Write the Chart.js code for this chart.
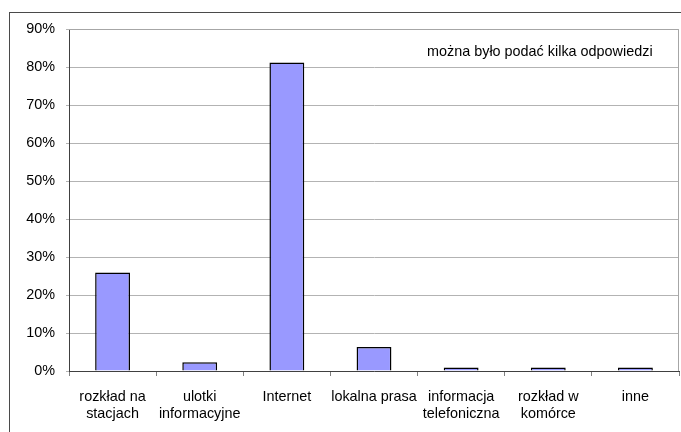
<!DOCTYPE html>
<html>
<head>
<meta charset="utf-8">
<script src="https://cdn.jsdelivr.net/npm/chart.js@4/dist/chart.umd.min.js"></script>
<style>
html,body{margin:0;padding:0;background:#fff;}
#wrap{width:681px;height:432px;position:relative;}
</style>
</head>
<body>
<div id="wrap"><canvas id="c" width="681" height="432"></canvas></div>
<script>
const categories = [
  ["rozkład na", "stacjach"],
  ["ulotki", "informacyjne"],
  "Internet",
  "lokalna prasa",
  ["informacja", "telefoniczna"],
  ["rozkład w", "komórce"],
  "inne"
];
const values = [25.9, 2.3, 81.2, 6.3, 0.9, 0.9, 0.9];
const yTicks = [0, 10, 20, 30, 40, 50, 60, 70, 80, 90];
const note = "można było podać kilka odpowiedzi";

const FONT = "'Liberation Sans', Arial, sans-serif";

const framePlugin = {
  id: 'frame',
  beforeDraw(chart) {
    const ctx = chart.ctx;
    ctx.save();
    ctx.fillStyle = '#fff';
    ctx.fillRect(0, 0, chart.width, chart.height);
    ctx.strokeStyle = '#4a4a4a';
    ctx.lineWidth = 1;
    ctx.strokeRect(9.5, 12.5, 800, 600);
    ctx.restore();
  },
  afterDatasetsDraw(chart) {
    const ctx = chart.ctx;
    const a = chart.chartArea;
    ctx.save();
    ctx.strokeStyle = '#a6a6a6';
    ctx.lineWidth = 1;
    ctx.beginPath();
    ctx.moveTo(a.left, Math.round(a.top) + 0.5);
    ctx.lineTo(Math.round(a.right) - 0.5, Math.round(a.top) + 0.5);
    ctx.lineTo(Math.round(a.right) - 0.5, a.bottom);
    ctx.stroke();
    ctx.fillStyle = '#000';
    ctx.font = '14.4px ' + FONT;
    ctx.textAlign = 'left';
    ctx.textBaseline = 'middle';
    ctx.fillText(note, 427, 52);
    ctx.restore();
  }
};

new Chart(document.getElementById('c'), {
  type: 'bar',
  data: {
    labels: categories,
    datasets: [{
      data: values,
      backgroundColor: '#9999ff',
      borderColor: '#000000',
      borderWidth: 1.5,
      barPercentage: 0.4,
      categoryPercentage: 1.0
    }]
  },
  options: {
    responsive: false,
    animation: false,
    devicePixelRatio: 1,
    layout: { padding: { left: 0, top: 29, right: 2, bottom: 0 } },
    plugins: { legend: { display: false }, tooltip: { enabled: false } },
    scales: {
      y: {
        min: 0, max: 90,
        afterFit(s) { s.width = 69; },
        afterBuildTicks(s) { s.ticks = yTicks.map(v => ({ value: v })); },
        ticks: {
          color: '#000',
          font: { family: FONT, size: 14.4 },
          padding: 11,
          callback: v => v + '%'
        },
        grid: { color: '#b3b3b3', lineWidth: 1, tickLength: 3, drawTicks: true },
        border: { color: '#404040', width: 1 }
      },
      x: {
        afterFit(s) { s.height = 61; },
        ticks: {
          color: '#000',
          font: { family: FONT, size: 14.4, lineHeight: 1.2 },
          padding: 12,
          maxRotation: 0,
          autoSkip: false
        },
        grid: { offset: true, drawOnChartArea: false, drawTicks: true, tickLength: 5, color: '#808080' },
        border: { color: '#404040', width: 1 }
      }
    }
  },
  plugins: [framePlugin]
});
</script>
</body>
</html>
